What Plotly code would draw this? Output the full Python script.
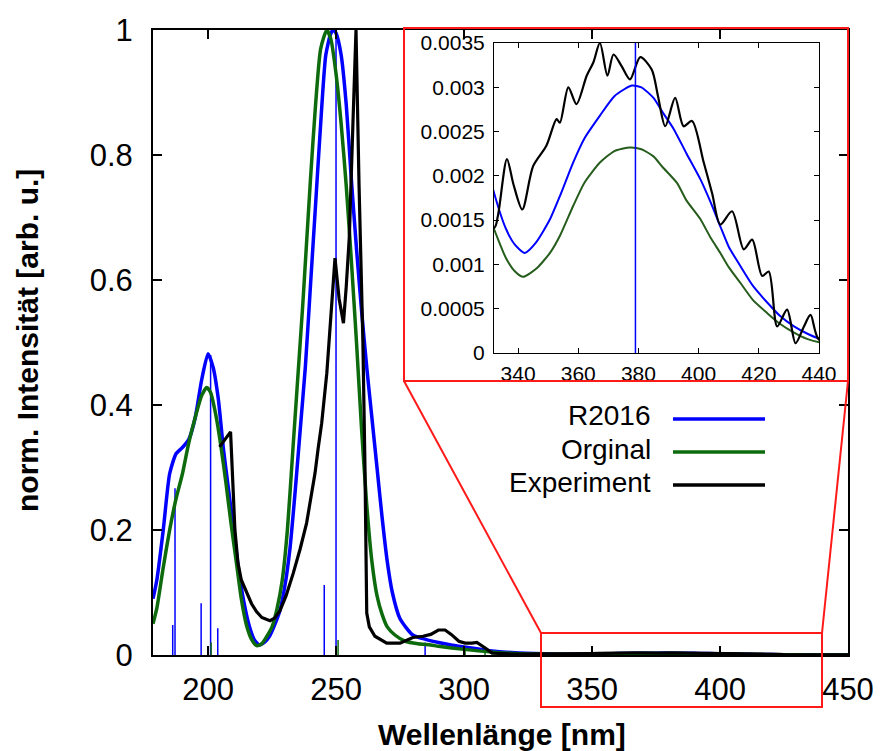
import plotly.graph_objects as go

W, H = 882, 751
def px(x): return x / W
def py(y): return 1 - y / H

FONT = "Liberation Sans, Arial, sans-serif"

# ---------------- data ----------------
# R2016 (blue)
r2016_x = [178.5, 180, 182.5, 185, 187.5, 190, 192.5, 195, 197.5, 200, 202, 204, 206, 208, 210, 212,
           214, 216, 218, 220, 222, 224, 226, 228, 230, 232, 234, 236, 238, 240, 242, 244, 246, 248,
           249, 250, 252, 254, 256, 258, 260, 262, 264, 266, 268, 270, 272, 275, 280, 285, 290, 295,
           300, 310, 320,
           332, 336, 339, 342.2, 346, 350.6, 354, 358.3, 362, 367.2, 372, 377.8, 381, 385, 388, 391.7,
           396, 400.6, 404, 407.2, 410, 413.9, 418, 422.8, 427, 431.7, 436, 440.3, 450]
r2016_y = [0.09, 0.12, 0.20, 0.29, 0.322, 0.332, 0.345, 0.38, 0.44, 0.482, 0.46, 0.41, 0.33, 0.265, 0.2, 0.135,
           0.085, 0.048, 0.025, 0.016, 0.02, 0.03, 0.048, 0.07, 0.11, 0.17, 0.26, 0.36, 0.46, 0.59, 0.72, 0.85, 0.96, 0.995,
           1.0, 0.995, 0.96, 0.88, 0.76, 0.65, 0.55, 0.46, 0.38, 0.30, 0.22, 0.15, 0.10, 0.058, 0.032, 0.025, 0.02, 0.016,
           0.013, 0.007, 0.0035,
           0.00181, 0.0014, 0.00122, 0.00113, 0.00125, 0.00151, 0.00178, 0.00215, 0.00242, 0.00268, 0.0029, 0.00302,
           0.003, 0.00288, 0.00272, 0.00253, 0.00225, 0.00196, 0.0017, 0.00143, 0.0012, 0.00098, 0.00076, 0.00057,
           0.00042, 0.0003, 0.00022, 0.00016, 0.0001]

# Orginal (green)
orig_x = [178.5, 180, 182.5, 185, 187.5, 190, 192.5, 195, 197.5, 199.5, 201, 203, 205, 207, 209, 211, 213,
          215, 217, 219, 221, 223, 225, 227, 229, 231, 233, 235, 237, 238.5, 240, 242, 244, 246.4, 248, 250,
          252, 254, 256, 258, 260, 262, 264, 266, 268, 270, 273, 277, 282, 287, 290, 300, 310, 320,
          332, 336, 339, 341.7, 346, 350.6, 354, 358.3, 362, 367.2, 372, 377.2, 381, 385, 388, 392.8,
          396, 400.6, 404, 407.2, 410, 413.9, 418, 422.8, 427, 431.7, 436, 440.3, 450]
orig_y = [0.05, 0.075, 0.14, 0.2, 0.25, 0.29, 0.34, 0.38, 0.415, 0.428, 0.42, 0.385, 0.335, 0.275, 0.21, 0.15, 0.09,
          0.048, 0.025, 0.015, 0.018, 0.03, 0.045, 0.075, 0.12, 0.2, 0.32, 0.44, 0.56, 0.66, 0.76, 0.88, 0.97, 1.0, 0.985, 0.93,
          0.85, 0.75, 0.63, 0.5, 0.36, 0.24, 0.15, 0.095, 0.065, 0.045, 0.032, 0.022, 0.018, 0.016, 0.014, 0.009, 0.005, 0.0025,
          0.0014, 0.00107, 0.00092, 0.00086, 0.00095, 0.00113, 0.00133, 0.00166, 0.00192, 0.00215, 0.00228, 0.00232,
          0.0023, 0.00222, 0.0021, 0.00192, 0.00172, 0.00151, 0.0013, 0.00113, 0.00097, 0.00079, 0.0006, 0.00045,
          0.00033, 0.00023, 0.00016, 0.00012, 0.00007]

# Experiment (black)
exp_x = [204.5, 208.8, 210.5, 211.7, 213, 215, 217, 219, 221, 224.2, 226, 228, 230.5, 233.3, 236, 238.5, 240.2,
         241.8, 243, 244.4, 246.4, 248.3, 249.6, 251.2, 252.9, 254, 255.2, 256.6, 257.8, 259, 260.5, 261.3, 262, 263,
         265.2, 269.8, 275, 280, 284, 287, 290, 292.6, 295, 298, 300.4, 303, 305, 308, 311, 320,
         332, 333.3, 336.3, 338.5, 341.4, 345, 349.4, 352.8, 353.9, 356.7, 359.4, 362.8, 365, 367.2, 369.7,
         371.7, 374.4, 377.2, 380.6, 384.4, 386.5, 388.9, 392.2, 395, 397.8, 401.7, 404.5, 407.2, 411.1,
         415, 417.8, 421.1, 423.3, 426.1, 429.4, 432.2, 435, 437.2, 440, 450]
exp_y = [0.333, 0.357, 0.2, 0.147, 0.12, 0.1, 0.082, 0.069, 0.06, 0.055, 0.059, 0.07, 0.095, 0.131, 0.17, 0.211, 0.25,
         0.291, 0.33, 0.371, 0.451, 0.557, 0.635, 0.57, 0.531, 0.59, 0.67, 0.85, 1.0, 0.75, 0.5, 0.3, 0.067, 0.045,
         0.03, 0.019, 0.019, 0.028, 0.03, 0.033, 0.04, 0.04, 0.033, 0.022, 0.019, 0.019, 0.02, 0.012, 0.003, 0.0015,
         0.00141, 0.00155, 0.00219, 0.0019, 0.00162, 0.00211, 0.00234, 0.00264, 0.0026, 0.003, 0.00281, 0.00313,
         0.00328, 0.0035, 0.00313, 0.00337, 0.00324, 0.00309, 0.00334, 0.0032, 0.0029, 0.00256, 0.00288, 0.00256,
         0.00262, 0.00215, 0.0018, 0.00145, 0.0016, 0.00117, 0.00128, 0.00087, 0.00092, 0.0003, 0.00049, 0.00011,
         0.0003, 0.00043, 0.00015, 0.0001]

# calculated transitions (sticks)
stick_r2016_x = [186.2, 187.1, 197.3, 201.0, 203.8, 245.4, 250.0, 284.8, 379.0]
stick_r2016_h = [0.048, 0.267, 0.083, 0.48, 0.043, 0.112, 1.0, 0.02, 0.004]
stick_orig_x = [201.2, 250.8, 300.4, 308.2]
stick_orig_h = [0.02, 0.024, 0.011, 0.005]

main_xticks = [200, 250, 300, 350, 400, 450]
main_yticks = [0, 0.2, 0.4, 0.6, 0.8, 1]
main_yticktext = ["0", "0.2", "0.4", "0.6", "0.8", "1"]
inset_xticks = [340, 360, 380, 400, 420, 440]
inset_yticks = [0, 0.0005, 0.001, 0.0015, 0.002, 0.0025, 0.003, 0.0035]
inset_yticktext = ["0", "0.0005", "0.001", "0.0015", "0.002", "0.0025", "0.003", "0.0035"]

legend_names = ["R2016", "Orginal", "Experiment"]

BLUE = "#0000ff"
GREEN = "#0d6b0d"
GREEN_IN = "#265c1c"
BLACK = "#000000"
RED = "#ff1a1a"

def sticks(xs, hs):
    X, Y = [], []
    for x, h in zip(xs, hs):
        X += [x, x, None]
        Y += [0, h, None]
    return X, Y

fig = go.Figure()

# main sticks
sx, sy = sticks(stick_r2016_x, stick_r2016_h)
fig.add_trace(go.Scatter(x=sx, y=sy, mode="lines", line=dict(color=BLUE, width=1.5),
                         xaxis="x", yaxis="y", showlegend=False, hoverinfo="skip"))
gx, gy = sticks(stick_orig_x, stick_orig_h)
fig.add_trace(go.Scatter(x=gx, y=gy, mode="lines", line=dict(color=GREEN, width=1.5),
                         xaxis="x", yaxis="y", showlegend=False, hoverinfo="skip"))

# main curves
fig.add_trace(go.Scatter(x=r2016_x, y=r2016_y, mode="lines", name=legend_names[0],
                         line=dict(color=BLUE, width=3.5, shape="spline", smoothing=0.6),
                         xaxis="x", yaxis="y", showlegend=False))
fig.add_trace(go.Scatter(x=orig_x, y=orig_y, mode="lines", name=legend_names[1],
                         line=dict(color=GREEN, width=3.5, shape="spline", smoothing=0.6),
                         xaxis="x", yaxis="y", showlegend=False))
fig.add_trace(go.Scatter(x=exp_x, y=exp_y, mode="lines", name=legend_names[2],
                         line=dict(color=BLACK, width=3.2),
                         xaxis="x", yaxis="y", showlegend=False))

# inset
fig.add_trace(go.Scatter(x=r2016_x, y=r2016_y, mode="lines",
                         line=dict(color=BLUE, width=2, shape="spline", smoothing=0.6),
                         xaxis="x2", yaxis="y2", showlegend=False))
fig.add_trace(go.Scatter(x=orig_x, y=orig_y, mode="lines",
                         line=dict(color=GREEN_IN, width=2, shape="spline", smoothing=0.6),
                         xaxis="x2", yaxis="y2", showlegend=False))
fig.add_trace(go.Scatter(x=exp_x, y=exp_y, mode="lines",
                         line=dict(color=BLACK, width=2.2, shape="spline", smoothing=0.8),
                         xaxis="x2", yaxis="y2", showlegend=False))
fig.add_trace(go.Scatter(x=sx, y=sy, mode="lines", line=dict(color=BLUE, width=1.5),
                         xaxis="x2", yaxis="y2", showlegend=False, hoverinfo="skip"))

axis_common = dict(showgrid=False, zeroline=False, showline=True, mirror="ticks",
                   ticks="inside", tickcolor="black", linecolor="black", automargin=False)

fig.update_layout(
    width=W, height=H, margin=dict(l=0, r=0, t=0, b=0, autoexpand=False),
    paper_bgcolor="white", plot_bgcolor="white",
    font=dict(family=FONT, color="black"),
    xaxis=dict(domain=[px(153), px(848)], range=[178.5, 450], anchor="y",
               tickvals=main_xticks, tickfont=dict(size=31), ticklen=9, tickwidth=1.5,
               linewidth=2, ticklabelstandoff=6, **axis_common),
    yaxis=dict(domain=[py(655), py(30)], range=[0, 1], anchor="x",
               tickvals=main_yticks, ticktext=main_yticktext, tickfont=dict(size=31),
               ticklen=9, tickwidth=1.5, linewidth=2, ticklabelstandoff=12, **axis_common),
    xaxis2=dict(domain=[px(494), px(819)], range=[332, 440], anchor="y2",
                tickvals=inset_xticks, tickfont=dict(size=21), ticklen=5, tickwidth=1,
                linewidth=1, ticklabelstandoff=2, **axis_common),
    yaxis2=dict(domain=[py(353), py(43)], range=[0, 0.0035], anchor="x2",
                tickvals=inset_yticks, ticktext=inset_yticktext, tickfont=dict(size=21),
                ticklen=5, tickwidth=1, linewidth=1, ticklabelstandoff=4, **axis_common),
)

shapes = [
    dict(type="rect", xref="paper", yref="paper", x0=px(404), x1=px(848), y0=py(381), y1=py(28),
         fillcolor="white", line=dict(width=0), layer="below"),
    dict(type="rect", xref="paper", yref="paper", x0=px(404), x1=px(848), y0=py(381), y1=py(28),
         line=dict(color=RED, width=2), layer="above"),
    dict(type="rect", xref="paper", yref="paper", x0=px(541), x1=px(822), y0=py(707), y1=py(633),
         line=dict(color=RED, width=2), layer="above"),
    dict(type="line", xref="paper", yref="paper", x0=px(541), y0=py(633), x1=px(404), y1=py(381),
         line=dict(color=RED, width=2), layer="above"),
    dict(type="line", xref="paper", yref="paper", x0=px(822), y0=py(633), x1=px(848), y1=py(381),
         line=dict(color=RED, width=2), layer="above"),
]
legend_colors = [BLUE, GREEN, BLACK]
legend_ys = [419, 452, 485]
annotations = []
for name, col, ly in zip(legend_names, legend_colors, legend_ys):
    shapes.append(dict(type="line", xref="paper", yref="paper", x0=px(673), x1=px(765),
                       y0=py(ly), y1=py(ly), line=dict(color=col, width=3.5), layer="above"))
    annotations.append(dict(text=name, xref="paper", yref="paper", x=px(653), y=py(ly - 3),
                            xanchor="right", yanchor="middle", showarrow=False,
                            font=dict(size=28, family=FONT, color="black")))

annotations.append(dict(text="<b>Wellenlänge [nm]</b>", xref="paper", yref="paper",
                        x=px(502), y=py(734), xanchor="center", yanchor="middle", showarrow=False,
                        font=dict(size=30, family=FONT, color="black")))
annotations.append(dict(text="<b>norm. Intensität [arb. u.]</b>", xref="paper", yref="paper",
                        x=px(28), y=py(341), xanchor="center", yanchor="middle", showarrow=False,
                        textangle=-90, font=dict(size=30, family=FONT, color="black")))

fig.update_layout(shapes=shapes, annotations=annotations)

fig.write_html("out.html")
